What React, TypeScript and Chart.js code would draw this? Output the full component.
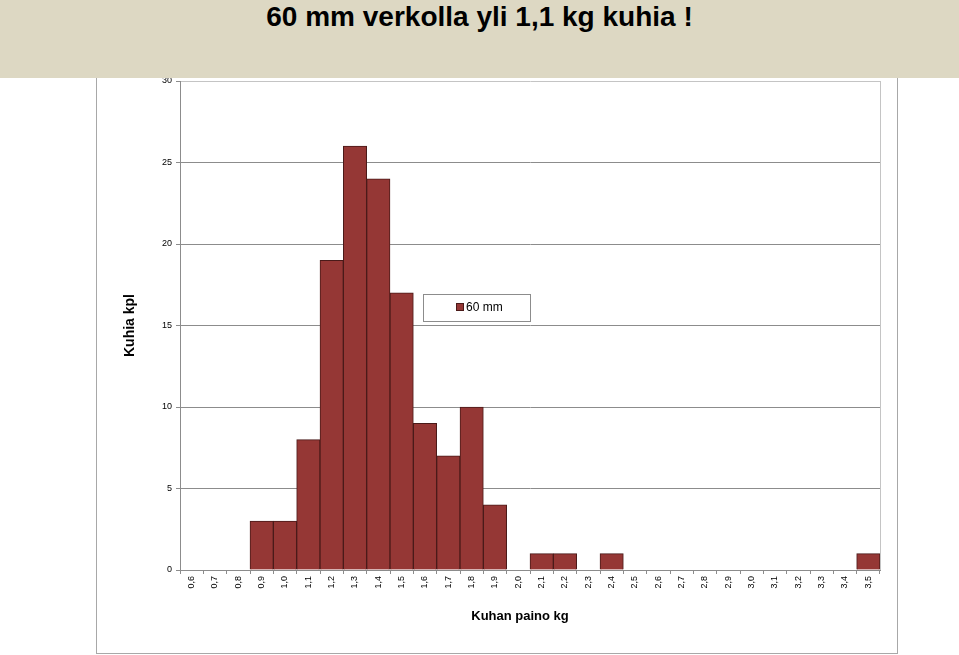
import React, { useEffect, useRef } from "react";
import { Chart, registerables } from "chart.js";

Chart.register(...registerables);

const categories = [
  "0,6", "0,7", "0,8", "0,9", "1,0", "1,1", "1,2", "1,3", "1,4", "1,5",
  "1,6", "1,7", "1,8", "1,9", "2,0", "2,1", "2,2", "2,3", "2,4", "2,5",
  "2,6", "2,7", "2,8", "2,9", "3,0", "3,1", "3,2", "3,3", "3,4", "3,5",
];
const counts60mm = [
  0, 0, 0, 3, 3, 8, 19, 26, 24, 17,
  9, 7, 10, 4, 0, 1, 1, 0, 1, 0,
  0, 0, 0, 0, 0, 0, 0, 0, 0, 1,
];
const seriesLabel = "60 mm";
const titleText = "60 mm verkolla yli 1,1 kg kuhia !";
const yTitle = "Kuhia kpl";
const xTitle = "Kuhan paino kg";

const BAR = "#953735";
const BAR_EDGE = "#4a1a19";
const FONT = "'Liberation Sans', Arial, sans-serif";

const decorPlugin = {
  id: "decor",
  afterDatasetsDraw(chart: any) {
    const { ctx, chartArea } = chart;
    ctx.save();
    // right edge of plot area
    ctx.strokeStyle = "#c4c4c4";
    ctx.lineWidth = 1;
    ctx.beginPath();
    ctx.moveTo(Math.round(chartArea.right) + 0.5, chartArea.top);
    ctx.lineTo(Math.round(chartArea.right) + 0.5, chartArea.bottom);
    ctx.stroke();
    // legend box
    const lx = 423, ly = 294, lw = 107, lh = 27;
    ctx.fillStyle = "#ffffff";
    ctx.fillRect(lx, ly, lw, lh);
    ctx.strokeStyle = "#8c8c8c";
    ctx.strokeRect(lx + 0.5, ly + 0.5, lw, lh);
    ctx.fillStyle = BAR;
    ctx.fillRect(456, 303, 8, 8);
    ctx.strokeStyle = BAR_EDGE;
    ctx.strokeRect(456.5, 303.5, 7, 7);
    ctx.fillStyle = "#000";
    ctx.font = "12px " + FONT;
    ctx.textBaseline = "middle";
    ctx.textAlign = "left";
    ctx.fillText(chart.data.datasets[0].label, 466, 308);
    // x axis title
    ctx.font = "bold 13px " + FONT;
    ctx.textAlign = "center";
    ctx.textBaseline = "alphabetic";
    ctx.fillText(xTitle, 520, 620);
    ctx.restore();
  },
};

export default function App() {
  const ref = useRef<HTMLCanvasElement | null>(null);

  useEffect(() => {
    if (!ref.current) return;
    const chart = new Chart(ref.current, {
      type: "bar",
      data: {
        labels: categories,
        datasets: [
          {
            label: seriesLabel,
            data: counts60mm,
            backgroundColor: BAR,
            borderColor: BAR_EDGE,
            borderWidth: 1,
            barPercentage: 1,
            categoryPercentage: 1,
          },
        ],
      },
      options: {
        responsive: false,
        animation: false,
        devicePixelRatio: 1,
        layout: { padding: { left: 122, right: 79, top: 81, bottom: 31 } },
        plugins: {
          legend: { display: false },
          tooltip: { enabled: false },
          title: { display: false },
        },
        scales: {
          x: {
            afterFit(scale: any) {
              scale.height = 54;
            },
            grid: {
              display: true,
              drawOnChartArea: false,
              drawTicks: true,
              tickLength: 4,
              offset: true,
              color: "#8c8c8c",
            },
            border: { display: true, color: "#8c8c8c", width: 1 },
            ticks: {
              autoSkip: false,
              maxRotation: 90,
              minRotation: 90,
              padding: 2,
              color: "#000",
              font: { size: 9, family: FONT },
            },
            title: { display: false, text: xTitle },
          },
          y: {
            min: 0,
            max: 30,
            afterFit(scale: any) {
              scale.width = 58;
            },
            grid: {
              color: (c: any) => (c.tick && c.tick.value === 30 ? "#c4c4c4" : "#8c8c8c"),
              tickColor: "#8c8c8c",
              tickLength: 4,
            },
            border: { display: true, color: "#8c8c8c", width: 1 },
            ticks: {
              stepSize: 5,
              padding: 4,
              color: "#000",
              font: { size: 9, family: FONT },
            },
            title: {
              display: true,
              text: yTitle,
              color: "#000",
              font: { size: 14, weight: "bold", family: FONT },
              padding: 0,
            },
          },
        },
      },
      plugins: [decorPlugin],
    });
    return () => chart.destroy();
  }, []);

  return (
    <div
      style={{
        position: "absolute",
        left: 0,
        top: 0,
        width: 959,
        height: 655,
        background: "#ffffff",
        overflow: "hidden",
      }}
    >
      <div
        style={{
          position: "absolute",
          left: 96,
          top: 60,
          width: 800,
          height: 592,
          border: "1px solid #a8a8a8",
        }}
      />
      <canvas
        ref={ref}
        width={959}
        height={655}
        style={{ position: "absolute", left: 0, top: 0, width: 959, height: 655 }}
      />
      <div
        style={{
          position: "absolute",
          left: 0,
          top: 0,
          width: 959,
          height: 78,
          background: "#ddd8c3",
          textAlign: "center",
          color: "#000",
        }}
      >
        <span
          style={{
            display: "inline-block",
            marginTop: 1,
            fontFamily: "'Liberation Sans', Arial, sans-serif",
            fontWeight: "bold",
            fontSize: 28,
            lineHeight: "32px",
            whiteSpace: "nowrap",
          }}
        >
          {titleText}
        </span>
      </div>
    </div>
  );
}
